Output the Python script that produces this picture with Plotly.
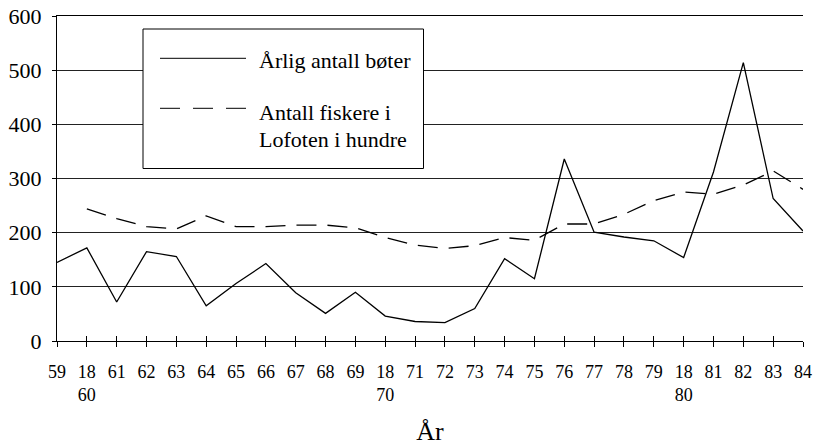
import plotly.graph_objects as go

years = list(range(1859, 1885))
tick_labels = ["59", "18<br>60", "61", "62", "63", "64", "65", "66", "67", "68", "69",
               "18<br>70", "71", "72", "73", "74", "75", "76", "77", "78", "79",
               "18<br>80", "81", "82", "83", "84"]
boter = [145, 172, 72, 165, 156, 65, 106, 143, 89, 51, 90, 46, 36, 34, 60,
         152, 115, 336, 201, 192, 185, 154, 312, 514, 263, 203]
fiskere = [None, 244, 226, 211, 207, 231, 211, 211, 214, 214, 209, 191, 177, 171, 176,
           191, 186, 216, 216, 234, 259, 275, 271, 288, 314, 280]
y_ticks = [0, 100, 200, 300, 400, 500, 600]
name_boter = "Årlig antall bøter"
name_fisk_1 = "Antall fiskere i"
name_fisk_2 = "Lofoten i hundre"
x_title = "År"

FONT = "Liberation Serif"
W, H = 815, 446
# plot area in page pixels: x 57..803, y 16..341
ML, MR, MT, MB = 57, W - 803, 16, H - 341
PW, PH = W - ML - MR, H - MT - MB


def px(x):
    return (x - ML) / PW


def py(y):
    return (H - MB - y) / PH


fig = go.Figure()
fig.add_trace(go.Scatter(x=years, y=boter, mode="lines", name=name_boter,
                         line=dict(color="black", width=1.3), showlegend=False))
fig.add_trace(go.Scatter(x=years, y=fiskere, mode="lines", name=name_fisk_1 + " " + name_fisk_2,
                         line=dict(color="black", width=1.3, dash="20px,11px"),
                         showlegend=False, connectgaps=False))

fig.update_layout(
    width=W, height=H,
    margin=dict(l=ML, r=MR, t=MT, b=MB, autoexpand=False),
    paper_bgcolor="white", plot_bgcolor="white",
    font=dict(family=FONT, color="black"),
    xaxis=dict(
        range=[years[0], years[-1]], tickvals=years, ticktext=tick_labels,
        showgrid=False, zeroline=False, showline=True, linecolor="black", linewidth=1,
        mirror=True,
        ticks="outside", ticklen=5, tickcolor="black", tickwidth=1,
        tickfont=dict(size=18, family=FONT), ticklabelstandoff=9, automargin=False,
        ticklabeloverflow="allow",
        title=dict(text=x_title, font=dict(size=26, family=FONT), standoff=18),
    ),
    xaxis2=dict(
        overlaying="x", matches="x", range=[years[0], years[-1]], tickvals=years,
        showticklabels=False, showgrid=False, zeroline=False, showline=False,
        ticks="inside", ticklen=5, tickcolor="black", tickwidth=1, side="bottom",
        automargin=False,
    ),
    yaxis=dict(
        range=[0, 600], tickvals=y_ticks, showgrid=True, gridcolor="#222", gridwidth=1,
        zeroline=False, showline=True, linecolor="black", linewidth=1,
        ticks="outside", ticklen=4, tickcolor="black", automargin=False,
        tickfont=dict(size=22, family=FONT), ticklabelstandoff=6,
        ticklabeloverflow="allow",
    ),
)
fig.add_trace(go.Scatter(x=[years[0]], y=[None], xaxis="x2", showlegend=False,
                         hoverinfo="skip", mode="lines"))

# legend box drawn as shapes and text (page pixel positions)
lx0, lx1, ly0, ly1 = 143, 423.5, 29, 168.5
fig.add_shape(type="rect", xref="paper", yref="paper",
              x0=px(lx0), x1=px(lx1), y0=py(ly1), y1=py(ly0),
              line=dict(color="black", width=1), fillcolor="white", layer="above")
fig.add_shape(type="line", xref="paper", yref="paper",
              x0=px(160), x1=px(246), y0=py(58.3), y1=py(58.3),
              line=dict(color="black", width=1), layer="above")
fig.add_shape(type="line", xref="paper", yref="paper",
              x0=px(160), x1=px(246), y0=py(108.3), y1=py(108.3),
              line=dict(color="black", width=1, dash="20px,13px"), layer="above")
for txt, yc in [(name_boter, 60.6), (name_fisk_1, 112.3), (name_fisk_2, 139)]:
    fig.add_annotation(text=txt, xref="paper", yref="paper", x=px(257), y=py(yc),
                       xanchor="left", yanchor="middle", showarrow=False,
                       font=dict(size=22, family=FONT, color="black"))

fig.write_html("out.html", config={"displayModeBar": False},
               post_script="document.body.style.margin='0';document.body.style.overflow='hidden';")
